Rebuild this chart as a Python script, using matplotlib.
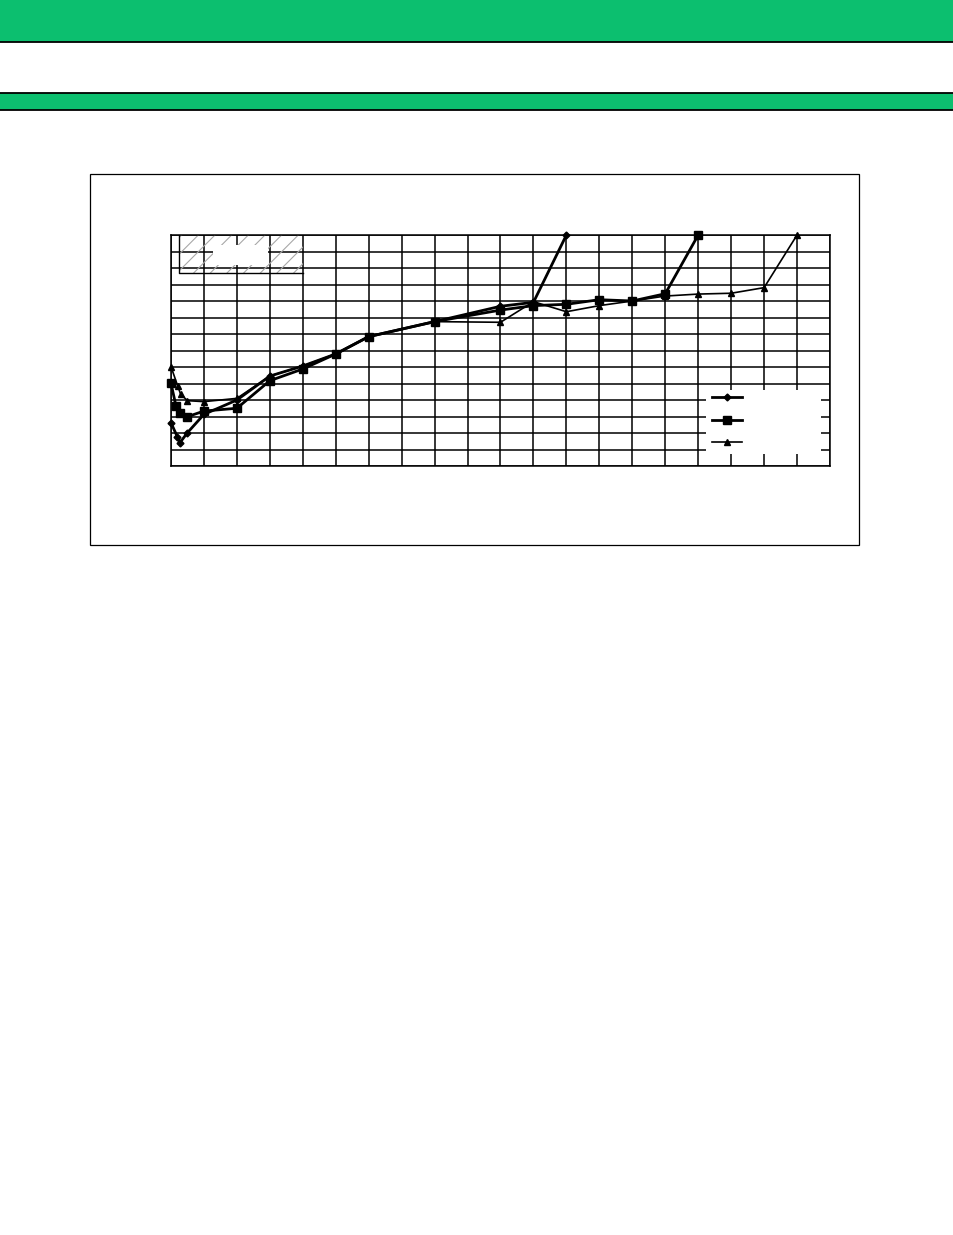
import matplotlib
matplotlib.use("Agg")
import matplotlib.pyplot as plt
from matplotlib.patches import Rectangle
from matplotlib.lines import Line2D

# grid units: 20 columns x 14 rows, no labels in the source page
x_diamond = [0, 0.19, 0.27, 0.5, 1, 2, 3, 4, 5, 6, 8, 10, 11, 12]
y_diamond = [2.62, 1.78, 1.41, 2.02, 3.13, 4.0, 5.45, 6.06, 6.79, 7.84, 8.75, 9.68, 9.92, 14.0]

x_square = [0, 0.15, 0.27, 0.5, 1, 2, 3, 4, 5, 6, 8, 10, 11, 12, 13, 14, 15, 16]
y_square = [5.01, 3.65, 3.23, 2.99, 3.33, 3.50, 5.17, 5.88, 6.79, 7.84, 8.75, 9.45, 9.72, 9.80,
            10.08, 10.0, 10.44, 14.0]

x_triangle = [0, 0.2, 0.29, 0.5, 1, 2, 3, 4, 5, 6, 8, 10, 11, 12, 13, 14, 15, 16, 17, 18, 19]
y_triangle = [6.02, 4.87, 4.36, 3.96, 3.90, 4.10, 5.45, 6.06, 6.79, 7.84, 8.75, 8.71, 9.96, 9.35,
              9.72, 10.0, 10.30, 10.42, 10.47, 10.81, 14.0]

W, H = 954, 1235
green = "#0CBF6F"
plt.rcParams["hatch.linewidth"] = 0.8

fig = plt.figure(figsize=(W / 100, H / 100), dpi=100)

def fig_rect(x0, y0, x1, y1, **kw):  # pixel box -> figure coords
    fig.patches.append(Rectangle((x0 / W, 1 - y1 / H), (x1 - x0) / W, (y1 - y0) / H,
                                 transform=fig.transFigure, **kw))

# page header bands
fig_rect(0, 0, W, 42, facecolor=green, edgecolor="none")
fig_rect(0, 93, W, 110, facecolor=green, edgecolor="none")
for yy in (42, 93, 110):
    fig.add_artist(Line2D([0, 1], [1 - yy / H] * 2, color="black", lw=1.3,
                          transform=fig.transFigure))

# chart frame
fig_rect(90, 174, 859, 545, facecolor="none", edgecolor="black", lw=0.9)

ax = fig.add_axes([171 / W, 1 - 466 / H, 659 / W, 231 / H])
ax.set_xlim(0, 20)
ax.set_ylim(0, 14)
ax.set_xticks(range(0, 21))
ax.set_yticks(range(0, 15))
ax.tick_params(length=0, labelbottom=False, labelleft=False)
ax.grid(True, color="black", lw=1.1)
ax.set_axisbelow(True)
for s in ax.spines.values():
    s.set_linewidth(1.1)

# hatched region in the upper-left corner
ax.add_patch(Rectangle((0.23, 11.70), 4.0 - 0.23, 14 - 11.70, facecolor="none",
                       edgecolor="#A8A8A8", hatch="//", lw=0, zorder=1.5))
ax.plot([0.23, 0.23, 4.0], [14, 11.70, 11.70], color="black", lw=1.0, zorder=1.6)
ax.add_patch(Rectangle((1.27, 12.18), 2.94 - 1.27, 13.39 - 12.18, facecolor="white",
                       edgecolor="none", zorder=1.7))

# white area behind legend
ax.add_patch(Rectangle((16.24, 0.73), 19.73 - 16.24, 4.61 - 0.73, facecolor="white",
                       edgecolor="none", zorder=1.7))

l1, = ax.plot(x_diamond, y_diamond, color="black", lw=2.0, marker="D", ms=3.5,
              clip_on=False, zorder=3)
l2, = ax.plot(x_square, y_square, color="black", lw=2.0, marker="s", ms=6,
              clip_on=False, zorder=3)
l3, = ax.plot(x_triangle, y_triangle, color="black", lw=1.2, marker="^", ms=4.5,
              clip_on=False, zorder=3)

ax.legend([l1, l2, l3], [" ", " ", " "], loc="upper left",
          bbox_to_anchor=(16.39, 4.61), bbox_transform=ax.transData,
          frameon=False, fontsize=10, handlelength=2.15, labelspacing=0.63,
          borderpad=0.05, borderaxespad=0)

fig.savefig("out.png", dpi=100)
